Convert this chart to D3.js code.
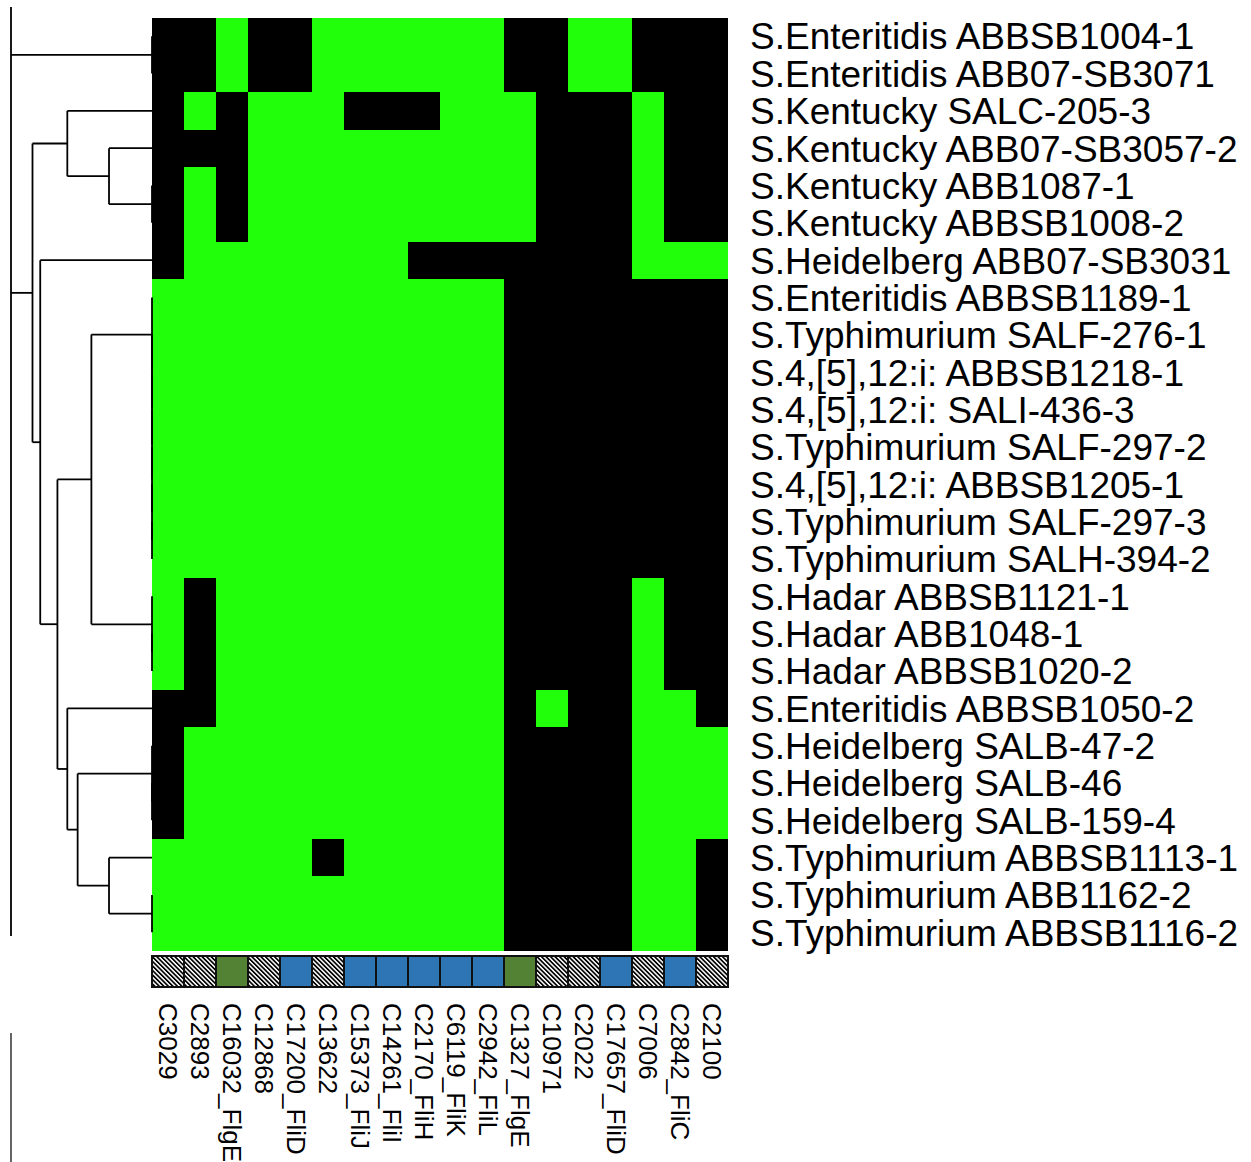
<!DOCTYPE html>
<html>
<head>
<meta charset="utf-8">
<script src="https://cdn.jsdelivr.net/npm/d3@7"></script>
<style>
  html, body { margin: 0; padding: 0; background: #fff; }
  svg { display: block; }
  text { font-family: "Liberation Sans", Arial, sans-serif; fill: #000; }
</style>
</head>
<body>
<svg id="chart" width="1251" height="1162"></svg>
<script>
// Isolates (rows, in dendrogram order)
const rowLabels = [
  "S.Enteritidis ABBSB1004-1",
  "S.Enteritidis ABB07-SB3071",
  "S.Kentucky SALC-205-3",
  "S.Kentucky ABB07-SB3057-2",
  "S.Kentucky ABB1087-1",
  "S.Kentucky ABBSB1008-2",
  "S.Heidelberg ABB07-SB3031",
  "S.Enteritidis ABBSB1189-1",
  "S.Typhimurium SALF-276-1",
  "S.4,[5],12:i: ABBSB1218-1",
  "S.4,[5],12:i: SALI-436-3",
  "S.Typhimurium SALF-297-2",
  "S.4,[5],12:i: ABBSB1205-1",
  "S.Typhimurium SALF-297-3",
  "S.Typhimurium SALH-394-2",
  "S.Hadar ABBSB1121-1",
  "S.Hadar ABB1048-1",
  "S.Hadar ABBSB1020-2",
  "S.Enteritidis ABBSB1050-2",
  "S.Heidelberg SALB-47-2",
  "S.Heidelberg SALB-46",
  "S.Heidelberg SALB-159-4",
  "S.Typhimurium ABBSB1113-1",
  "S.Typhimurium ABB1162-2",
  "S.Typhimurium ABBSB1116-2"
];

// Gene clusters (columns)
const colLabels = [
  "C3029", "C2893", "C16032_FlgE", "C12868", "C17200_FliD", "C13622",
  "C15373_FliJ", "C14261_FliI", "C2170_FliH", "C6119_FliK", "C2942_FliL",
  "C1327_FlgE", "C10971", "C2022", "C17657_FliD", "C7006", "C2842_FliC", "C2100"
];

// Column annotation group for each gene cluster
const colGroups = [
  "other", "other", "flg", "other", "fli", "other",
  "fli", "fli", "fli", "fli", "fli",
  "flg", "other", "other", "fli", "other", "fli", "other"
];

// Presence (1) / absence (0) of each gene cluster per isolate
const presence = [
  [0,0,1,0,0,1,1,1,1,1,1,0,0,1,1,0,0,0],
  [0,0,1,0,0,1,1,1,1,1,1,0,0,1,1,0,0,0],
  [0,1,0,1,1,1,0,0,0,1,1,1,0,0,0,1,0,0],
  [0,0,0,1,1,1,1,1,1,1,1,1,0,0,0,1,0,0],
  [0,1,0,1,1,1,1,1,1,1,1,1,0,0,0,1,0,0],
  [0,1,0,1,1,1,1,1,1,1,1,1,0,0,0,1,0,0],
  [0,1,1,1,1,1,1,1,0,0,0,0,0,0,0,1,1,1],
  [1,1,1,1,1,1,1,1,1,1,1,0,0,0,0,0,0,0],
  [1,1,1,1,1,1,1,1,1,1,1,0,0,0,0,0,0,0],
  [1,1,1,1,1,1,1,1,1,1,1,0,0,0,0,0,0,0],
  [1,1,1,1,1,1,1,1,1,1,1,0,0,0,0,0,0,0],
  [1,1,1,1,1,1,1,1,1,1,1,0,0,0,0,0,0,0],
  [1,1,1,1,1,1,1,1,1,1,1,0,0,0,0,0,0,0],
  [1,1,1,1,1,1,1,1,1,1,1,0,0,0,0,0,0,0],
  [1,1,1,1,1,1,1,1,1,1,1,0,0,0,0,0,0,0],
  [1,0,1,1,1,1,1,1,1,1,1,0,0,0,0,1,0,0],
  [1,0,1,1,1,1,1,1,1,1,1,0,0,0,0,1,0,0],
  [1,0,1,1,1,1,1,1,1,1,1,0,0,0,0,1,0,0],
  [0,0,1,1,1,1,1,1,1,1,1,0,1,0,0,1,1,0],
  [0,1,1,1,1,1,1,1,1,1,1,0,0,0,0,1,1,1],
  [0,1,1,1,1,1,1,1,1,1,1,0,0,0,0,1,1,1],
  [0,1,1,1,1,1,1,1,1,1,1,0,0,0,0,1,1,1],
  [1,1,1,1,1,0,1,1,1,1,1,0,0,0,0,1,1,0],
  [1,1,1,1,1,1,1,1,1,1,1,0,0,0,0,1,1,0],
  [1,1,1,1,1,1,1,1,1,1,1,0,0,0,0,1,1,0]
];

// Row clustering: leaves refer to row indices, internal nodes carry merge heights
const rowTree = { h: 3.28, children: [
  { h: 0, children: [ { row: 0 }, { row: 1 } ] },
  { h: 2.78, children: [
    { h: 1.97, children: [
      { row: 2 },
      { h: 1.0, children: [ { row: 3 }, { h: 0, children: [ { row: 4 }, { row: 5 } ] } ] }
    ] },
    { h: 2.6, children: [
      { row: 6 },
      { h: 2.2, children: [
        { h: 1.41, children: [
          { h: 0, children: [ { row: 7 }, { h: 0, children: [ { row: 8 }, { h: 0, children: [ { row: 9 },
            { h: 0, children: [ { row: 10 }, { h: 0, children: [ { row: 11 }, { h: 0, children: [ { row: 12 },
              { h: 0, children: [ { row: 13 }, { row: 14 } ] } ] } ] } ] } ] } ] } ] },
          { h: 0, children: [ { row: 15 }, { h: 0, children: [ { row: 16 }, { row: 17 } ] } ] }
        ] },
        { h: 1.97, children: [
          { row: 18 },
          { h: 1.73, children: [
            { h: 0, children: [ { row: 19 }, { h: 0, children: [ { row: 20 }, { row: 21 } ] } ] },
            { h: 1.0, children: [ { row: 22 }, { h: 0, children: [ { row: 23 }, { row: 24 } ] } ] }
          ] }
        ] }
      ] }
    ] }
  ] }
] };

const annColors = { flg: "#548235", fli: "#2e75b6" };
const presentColor = "#22ff0a";
const absentColor = "#000000";

// ---- layout ----
const heat = { left: 152, right: 728, top: 17.5, bottom: 951 };
const annBar = { top: 956, bottom: 987 };
const rowLabelX = 750;
const colLabelY = 1003;

const svg = d3.select("#chart");

const x = d3.scaleBand().domain(d3.range(colLabels.length)).range([heat.left, heat.right]);
const y = d3.scaleBand().domain(d3.range(rowLabels.length)).range([heat.top, heat.bottom]);
const hx = d3.scaleLinear().domain([0, rowTree.h]).range([heat.left, 11]);

// hatch pattern for unannotated clusters
const defs = svg.append("defs");
const pat = defs.append("pattern")
  .attr("id", "hatch")
  .attr("patternUnits", "userSpaceOnUse")
  .attr("width", 3.2).attr("height", 3.2)
  .attr("patternTransform", "rotate(-45)");
pat.append("rect").attr("width", 3.2).attr("height", 3.2).attr("fill", "#fff");
pat.append("rect").attr("width", 1.7).attr("height", 3.2).attr("fill", "#000");

// ---- heatmap cells ----
const cells = [];
presence.forEach((r, i) => r.forEach((v, j) => cells.push({ i, j, v })));
svg.append("g").attr("class", "cells")
  .selectAll("rect").data(cells).join("rect")
  .attr("x", d => x(d.j))
  .attr("y", d => y(d.i))
  .attr("width", x.bandwidth() + 0.3)
  .attr("height", y.bandwidth() + 0.3)
  .attr("fill", d => d.v ? presentColor : absentColor)
  .attr("shape-rendering", "crispEdges");

// ---- column annotation bar ----
svg.append("g").attr("class", "ann")
  .selectAll("rect").data(colGroups).join("rect")
  .attr("x", (d, j) => x(j))
  .attr("y", annBar.top)
  .attr("width", x.bandwidth())
  .attr("height", annBar.bottom - annBar.top)
  .attr("fill", d => annColors[d] || "url(#hatch)")
  .attr("stroke", "#111")
  .attr("stroke-width", 2);

// ---- row labels ----
svg.append("g").attr("class", "row-labels")
  .selectAll("text").data(rowLabels).join("text")
  .attr("x", rowLabelX)
  .attr("y", (d, i) => y(i) + y.bandwidth() / 2)
  .attr("dy", "0.36em")
  .attr("font-size", 37)
  .text(d => d);

// ---- column labels (vertical) ----
svg.append("g").attr("class", "col-labels")
  .selectAll("text").data(colLabels).join("text")
  .attr("transform", (d, j) => `translate(${x(j) + x.bandwidth() / 2},${colLabelY}) rotate(90)`)
  .attr("dy", "0.36em")
  .attr("font-size", 26)
  .text(d => d);

// ---- row dendrogram ----
const root = d3.hierarchy(rowTree);
root.eachAfter(n => {
  if (n.children) {
    n.py = (n.children[0].py + n.children[n.children.length - 1].py) / 2;
    n.px = hx(n.data.h);
  } else {
    n.py = y(n.data.row) + y.bandwidth() / 2;
    n.px = heat.left;
  }
});

const dend = svg.append("g").attr("class", "dendrogram")
  .attr("fill", "none").attr("stroke", "#000").attr("stroke-width", 1.8);

root.descendants().filter(n => n.children).forEach(n => {
  const ys = n.children.map(c => c.py);
  let y0 = d3.min(ys), y1 = d3.max(ys);
  if (!n.parent) { y0 = 7; y1 = 936; } // root stem drawn over the full panel height
  dend.append("line")
    .attr("x1", n.px).attr("x2", n.px)
    .attr("y1", y0).attr("y2", y1);
  n.children.forEach(c => {
    dend.append("line")
      .attr("x1", n.px).attr("x2", c.px)
      .attr("y1", c.py).attr("y2", c.py);
  });
});

// stub of the column-side axis below the dendrogram
svg.append("line")
  .attr("x1", hx(rowTree.h)).attr("x2", hx(rowTree.h))
  .attr("y1", 1033).attr("y2", 1162)
  .attr("stroke", "#555").attr("stroke-width", 1.8);
</script>
</body>
</html>
